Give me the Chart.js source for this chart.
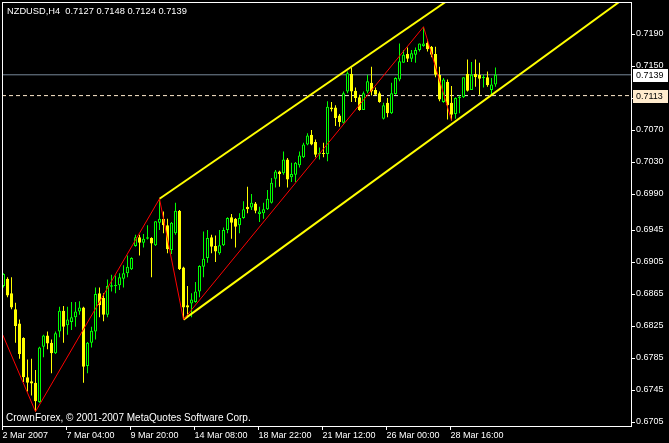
<!DOCTYPE html>
<html>
<head>
<meta charset="utf-8">
<script src="https://cdn.jsdelivr.net/npm/chart.js@4.4.1/dist/chart.umd.min.js"></script>
<style>
  html, body { margin: 0; padding: 0; background: #000; }
  canvas { display: block; }
</style>
</head>
<body>
<canvas id="chart" width="669" height="443"></canvas>
<script>
var symbol = "NZDUSD,H4";
var copyright = "CrownForex, \u00a9 2001-2007 MetaQuotes Software Corp.";

// H4 bars, one entry per candle
var opens = [
  0.6875, 0.6884, 0.6866, 0.6846, 0.6828, 0.6810, 0.6761, 0.6756, 0.6754, 0.6730,
  0.6799, 0.6813, 0.6804, 0.6791, 0.6818, 0.6844, 0.6826, 0.6830, 0.6836, 0.6843,
  0.6848, 0.6775, 0.6804, 0.6818, 0.6866, 0.6860, 0.6839, 0.6874, 0.6875, 0.6876,
  0.6884, 0.6891, 0.6896, 0.6925, 0.6936, 0.6929, 0.6934, 0.6935, 0.6926, 0.6954,
  0.6959, 0.6951, 0.6920, 0.6941, 0.6969, 0.6898, 0.6851, 0.6853, 0.6855, 0.6868,
  0.6899, 0.6910, 0.6936, 0.6925, 0.6916, 0.6926, 0.6945, 0.6961, 0.6959, 0.6951,
  0.6960, 0.6974, 0.6973, 0.6978, 0.6965, 0.6966, 0.6971, 0.6979, 0.7009, 0.7018,
  0.7016, 0.7033, 0.7011, 0.7014, 0.7026, 0.7036, 0.7052, 0.7064, 0.7055, 0.7040,
  0.7041, 0.7040, 0.7098, 0.7098, 0.7088, 0.7079, 0.7118, 0.7140, 0.7119, 0.7111,
  0.7095, 0.7118, 0.7129, 0.7120, 0.7116, 0.7084, 0.7104, 0.7091, 0.7115, 0.7133,
  0.7154, 0.7165, 0.7159, 0.7164, 0.7170, 0.7175, 0.7179, 0.7174, 0.7165, 0.7139,
  0.7105, 0.7130, 0.7104, 0.7090, 0.7110, 0.7111, 0.7140, 0.7120, 0.7140, 0.7139,
  0.7135, 0.7136, 0.7120, 0.7127
];
var highs = [
  0.6891, 0.6886, 0.6886, 0.6854, 0.6833, 0.6811, 0.6783, 0.6784, 0.6770, 0.6799,
  0.6814, 0.6818, 0.6808, 0.6818, 0.6849, 0.6850, 0.6849, 0.6855, 0.6855, 0.6856,
  0.6849, 0.6805, 0.6824, 0.6873, 0.6873, 0.6866, 0.6883, 0.6889, 0.6888, 0.6891,
  0.6901, 0.6913, 0.6911, 0.6939, 0.6939, 0.6940, 0.6951, 0.6936, 0.6956, 0.6984,
  0.6968, 0.6959, 0.6955, 0.6979, 0.6970, 0.6899, 0.6875, 0.6866, 0.6880, 0.6901,
  0.6943, 0.6945, 0.6939, 0.6938, 0.6945, 0.6948, 0.6961, 0.6965, 0.6960, 0.6966,
  0.6981, 0.6999, 0.6990, 0.6980, 0.6974, 0.6979, 0.6995, 0.7010, 0.7020, 0.7019,
  0.7043, 0.7035, 0.7029, 0.7030, 0.7043, 0.7054, 0.7066, 0.7070, 0.7058, 0.7048,
  0.7054, 0.7106, 0.7105, 0.7101, 0.7090, 0.7118, 0.7143, 0.7148, 0.7123, 0.7114,
  0.7118, 0.7139, 0.7149, 0.7123, 0.7118, 0.7104, 0.7110, 0.7129, 0.7136, 0.7178,
  0.7170, 0.7173, 0.7170, 0.7173, 0.7178, 0.7199, 0.7183, 0.7175, 0.7174, 0.7149,
  0.7135, 0.7133, 0.7125, 0.7111, 0.7113, 0.7136, 0.7158, 0.7155, 0.7158, 0.7154,
  0.7139, 0.7143, 0.7135, 0.7148
];
var lows = [
  0.6873, 0.6861, 0.6846, 0.6804, 0.6784, 0.6755, 0.6743, 0.6738, 0.6718, 0.6729,
  0.6786, 0.6796, 0.6766, 0.6790, 0.6811, 0.6804, 0.6814, 0.6820, 0.6824, 0.6839,
  0.6754, 0.6766, 0.6798, 0.6808, 0.6836, 0.6831, 0.6836, 0.6868, 0.6866, 0.6870,
  0.6873, 0.6886, 0.6895, 0.6924, 0.6913, 0.6923, 0.6933, 0.6886, 0.6925, 0.6945,
  0.6941, 0.6916, 0.6915, 0.6939, 0.6895, 0.6833, 0.6836, 0.6836, 0.6854, 0.6861,
  0.6886, 0.6904, 0.6916, 0.6905, 0.6914, 0.6925, 0.6941, 0.6934, 0.6923, 0.6941,
  0.6959, 0.6966, 0.6970, 0.6966, 0.6955, 0.6959, 0.6970, 0.6978, 0.6998, 0.6999,
  0.7014, 0.6998, 0.7005, 0.7005, 0.7023, 0.7035, 0.7051, 0.7051, 0.7036, 0.7033,
  0.7036, 0.7031, 0.7093, 0.7075, 0.7074, 0.7078, 0.7116, 0.7105, 0.7105, 0.7094,
  0.7095, 0.7116, 0.7113, 0.7114, 0.7104, 0.7083, 0.7086, 0.7090, 0.7114, 0.7131,
  0.7154, 0.7155, 0.7155, 0.7154, 0.7168, 0.7174, 0.7168, 0.7161, 0.7136, 0.7106,
  0.7104, 0.7083, 0.7082, 0.7084, 0.7091, 0.7110, 0.7118, 0.7120, 0.7124, 0.7114,
  0.7123, 0.7124, 0.7114, 0.7124
];
var closes = [
  0.6890, 0.6863, 0.6848, 0.6825, 0.6790, 0.6761, 0.6754, 0.6753, 0.6731, 0.6798,
  0.6813, 0.6803, 0.6791, 0.6816, 0.6844, 0.6824, 0.6833, 0.6836, 0.6843, 0.6848,
  0.6774, 0.6804, 0.6819, 0.6865, 0.6851, 0.6839, 0.6875, 0.6876, 0.6876, 0.6886,
  0.6891, 0.6899, 0.6910, 0.6936, 0.6929, 0.6934, 0.6936, 0.6928, 0.6956, 0.6959,
  0.6951, 0.6921, 0.6954, 0.6969, 0.6896, 0.6848, 0.6848, 0.6858, 0.6868, 0.6900,
  0.6909, 0.6935, 0.6924, 0.6918, 0.6926, 0.6945, 0.6960, 0.6954, 0.6949, 0.6960,
  0.6971, 0.6971, 0.6979, 0.6969, 0.6968, 0.6971, 0.6984, 0.7004, 0.7018, 0.7015,
  0.7033, 0.7008, 0.7015, 0.7029, 0.7038, 0.7052, 0.7063, 0.7052, 0.7039, 0.7041,
  0.7040, 0.7099, 0.7096, 0.7085, 0.7080, 0.7116, 0.7141, 0.7118, 0.7110, 0.7095,
  0.7116, 0.7131, 0.7118, 0.7114, 0.7105, 0.7101, 0.7091, 0.7116, 0.7135, 0.7156,
  0.7164, 0.7159, 0.7166, 0.7170, 0.7178, 0.7178, 0.7171, 0.7164, 0.7139, 0.7108,
  0.7133, 0.7101, 0.7089, 0.7110, 0.7111, 0.7136, 0.7119, 0.7139, 0.7136, 0.7134,
  0.7136, 0.7126, 0.7127, 0.7139
];

// time axis labels and the bar they sit on
var timeLabels = ["2 Mar 2007", "7 Mar 04:00", "9 Mar 20:00", "14 Mar 08:00",
  "18 Mar 22:00", "21 Mar 12:00", "26 Mar 00:00", "28 Mar 16:00"];
var timeBars = [0, 16, 32, 48, 64, 80, 96, 112];

var priceTicks = [0.7190, 0.7150, 0.7110, 0.7070, 0.7030, 0.6990, 0.6945,
  0.6905, 0.6865, 0.6825, 0.6785, 0.6745, 0.6705];

var bidPrice = 0.7139;
var levelPrice = 0.7113;

// zigzag and the two trend lines (bar index, price)
var zigzagBars = [-0.2, 8, 39, 45, 105, 112];
var zigzagPrices = [0.6814, 0.6718, 0.6984, 0.6833, 0.7199, 0.7082];
var upperBars = [39, 110.5];
var upperPrices = [0.6984, 0.7230];
var lowerBars = [45, 153.9];
var lowerPrices = [0.6833, 0.7230];

var xMin = -0.375, xMax = 157.125;
var yMin = 0.6700, yMax = 0.7230;

var fontFamily = "'Liberation Sans', Arial, sans-serif";
var tickFont = { family: fontFamily, size: 9 };

function points(xs, ys) {
  return xs.map(function(x, i) { return { x: x, y: ys[i] }; });
}

var up = closes.map(function(c, i) { return c >= opens[i]; });

var chartDecor = {
  id: "chartDecor",
  beforeDraw: function(chart) {
    var ctx = chart.ctx;
    ctx.save();
    ctx.fillStyle = "#000";
    ctx.fillRect(0, 0, chart.width, chart.height);
    ctx.restore();
  },
  afterDraw: function(chart) {
    var ctx = chart.ctx;
    var a = chart.chartArea;
    var ys = chart.scales.y;
    var n = closes.length - 1;
    ctx.save();
    ctx.strokeStyle = "#fff";
    ctx.lineWidth = 1;
    ctx.strokeRect(a.left + 0.5, a.top + 0.5, a.right - a.left - 1, a.bottom - a.top);

    ctx.fillStyle = "#fff";
    ctx.textBaseline = "alphabetic";
    ctx.font = "9.3px " + fontFamily;
    ctx.fillText(symbol + "  " + opens[n].toFixed(4) + " " + highs[n].toFixed(4) + " " +
      lows[n].toFixed(4) + " " + closes[n].toFixed(4), 7, 14);
    ctx.font = "10px " + fontFamily;
    ctx.fillText(copyright, 6, 421);

    // price labels on the axis
    var boxes = [[bidPrice, "#ffffff"], [levelPrice, "#ffebcd"]];
    ctx.font = "9px " + fontFamily;
    ctx.textBaseline = "middle";
    boxes.forEach(function(b) {
      var py = Math.round(ys.getPixelForValue(b[0]));
      ctx.fillStyle = b[1];
      ctx.fillRect(a.right + 1, py - 6, 35, 13);
      ctx.fillStyle = "#000";
      ctx.fillText(b[0].toFixed(4), a.right + 4, py + 0.5);
    });
    ctx.restore();
  }
};

var ctx = document.getElementById("chart").getContext("2d");
var chart = new Chart(ctx, {
  type: "bar",
  data: {
    datasets: [
      {
        type: "line",
        label: "zigzag",
        data: points(zigzagBars, zigzagPrices),
        borderColor: "#ff0000",
        borderWidth: 1,
        pointRadius: 0,
        clip: 0,
        order: 0
      },
      {
        type: "line",
        label: "upper",
        data: points(upperBars, upperPrices),
        borderColor: "#ffff00",
        borderWidth: 2,
        pointRadius: 0,
        clip: 0,
        order: 0
      },
      {
        type: "line",
        label: "lower",
        data: points(lowerBars, lowerPrices),
        borderColor: "#ffff00",
        borderWidth: 2,
        pointRadius: 0,
        clip: 0,
        order: 0
      },
      {
        label: "bodies",
        data: opens.map(function(o, i) { return { x: i, y: [o, closes[i]] }; }),
        backgroundColor: up.map(function(u) { return u ? "#000000" : "#ffff00"; }),
        borderColor: up.map(function(u) { return u ? "#00ff00" : "#ffff00"; }),
        borderWidth: 1,
        borderSkipped: false,
        barThickness: 3,
        minBarLength: 1,
        grouped: false,
        inflateAmount: 0,
        order: 1
      },
      {
        label: "wicks",
        data: lows.map(function(l, i) { return { x: i, y: [l, highs[i]] }; }),
        backgroundColor: up.map(function(u) { return u ? "#00ff00" : "#ffff00"; }),
        borderWidth: 0,
        barThickness: 1,
        grouped: false,
        inflateAmount: 0,
        order: 2
      },
      {
        type: "line",
        label: "bid",
        data: points([xMin, xMax], [bidPrice, bidPrice]),
        borderColor: "#778899",
        borderWidth: 1,
        pointRadius: 0,
        clip: 0,
        order: 3
      },
      {
        type: "line",
        label: "level",
        data: points([xMin, xMax], [levelPrice, levelPrice]),
        borderColor: "#ffebcd",
        borderWidth: 1,
        borderDash: [4, 3],
        pointRadius: 0,
        clip: 0,
        order: 3
      }
    ]
  },
  options: {
    responsive: false,
    animation: false,
    devicePixelRatio: 1,
    events: [],
    layout: { padding: { left: 2, top: 2, right: 0, bottom: 0 } },
    plugins: {
      legend: { display: false },
      tooltip: { enabled: false }
    },
    scales: {
      x: {
        type: "linear",
        min: xMin,
        max: xMax,
        bounds: "data",
        offset: false,
        afterBuildTicks: function(s) {
          s.ticks = timeBars.map(function(b) { return { value: b - 0.25 }; });
        },
        afterFit: function(s) {
          s.height = 17;
          s.paddingLeft = 0;
          s.paddingRight = 0;
        },
        grid: { drawOnChartArea: false, tickLength: 4, color: "#ffffff", offset: false },
        border: { display: false },
        ticks: {
          color: "#ffffff",
          font: tickFont,
          align: "start",
          maxRotation: 0,
          autoSkip: false,
          padding: 0,
          callback: function(v) {
            var k = timeBars.indexOf(Math.round(v + 0.25));
            return k < 0 ? "" : timeLabels[k];
          }
        }
      },
      y: {
        type: "linear",
        position: "right",
        min: yMin,
        max: yMax,
        bounds: "data",
        afterBuildTicks: function(s) {
          s.ticks = priceTicks.map(function(v) { return { value: v }; });
        },
        afterFit: function(s) {
          s.width = 37;
          s.paddingTop = 0;
          s.paddingBottom = 0;
        },
        grid: { drawOnChartArea: false, tickLength: 3, color: "#ffffff" },
        border: { display: false },
        ticks: {
          color: "#ffffff",
          font: tickFont,
          padding: 1,
          callback: function(v) { return v.toFixed(4); }
        }
      }
    }
  },
  plugins: [chartDecor]
});
</script>
</body>
</html>
